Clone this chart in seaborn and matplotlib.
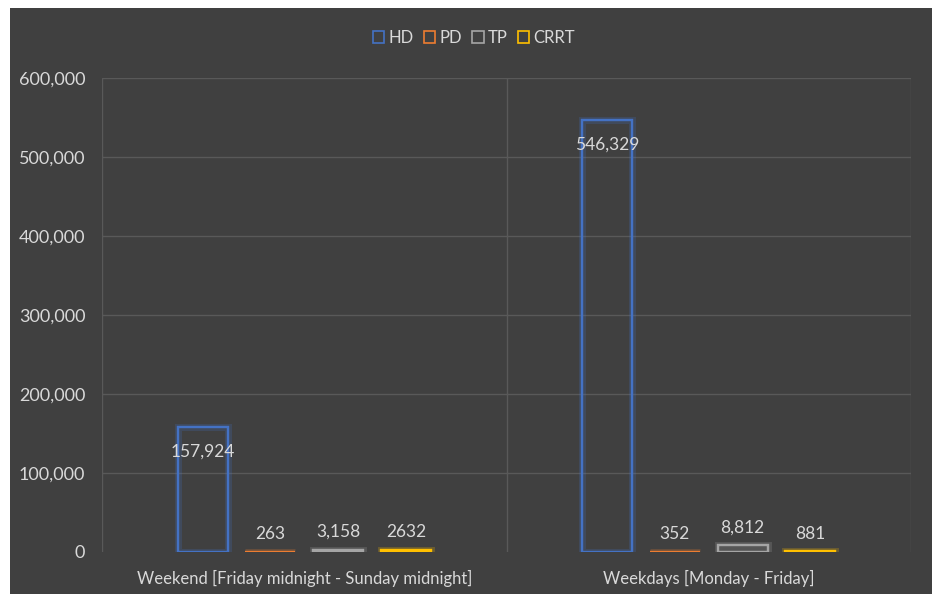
import pandas as pd
import seaborn as sns
import matplotlib.pyplot as plt
from matplotlib.patches import Rectangle, Patch
import matplotlib.patheffects as pe

# Data
periods = ["Weekend [Friday midnight - Sunday midnight]", "Weekdays [Monday - Friday]"]
modalities = ["HD", "PD", "TP", "CRRT"]
weekend_vals = [157924, 263, 3158, 2632]
weekday_vals = [546329, 352, 8812, 881]
weekend_labels = ["157,924", "263", "3,158", "2632"]
weekday_labels = ["546,329", "352", "8,812", "881"]
y_ticks = [0, 100000, 200000, 300000, 400000, 500000, 600000]
colors = ["#4472C4", "#ED7D31", "#A5A5A5", "#FFC000"]

df = pd.DataFrame({
    "period": [periods[0]] * 4 + [periods[1]] * 4,
    "modality": modalities * 2,
    "count": weekend_vals + weekday_vals,
    "label": weekend_labels + weekday_labels,
})

bg = "#404040"
txt = "#D9D9D9"
grid = "#595959"

sns.set_theme(style="dark")
plt.rcParams["font.family"] = ["Lato", "DejaVu Sans"]

fig = plt.figure(figsize=(9.32, 5.94), dpi=100, facecolor="white")
fig.patches.append(Rectangle((10 / 932, 0), 1, 1 - 8 / 594, transform=fig.transFigure,
                             facecolor=bg, edgecolor="none", zorder=-10))
ax = fig.add_axes([102 / 932, 1 - 552 / 594, 809 / 932, 474 / 594])
ax.set_zorder(1)
ax.set_facecolor(bg)

sns.barplot(data=df, x="period", y="count", hue="modality", order=periods,
            hue_order=modalities, palette=colors, fill=False, width=0.67,
            gap=0.26, linewidth=1.6, legend=False, ax=ax, zorder=3)

# soft glow on bar outlines
for p in ax.patches:
    p.set_path_effects([pe.withStroke(linewidth=5, foreground=p.get_edgecolor(), alpha=0.22),
                        pe.Normal()])

# data labels
for container, mod in zip(ax.containers, modalities):
    labs = df[df["modality"] == mod].set_index("period").loc[periods, "label"].tolist()
    if mod == "HD":
        ax.bar_label(container, labels=labs, padding=-23, color=txt, fontsize=12.5)
    else:
        ax.bar_label(container, labels=labs, padding=7, color=txt, fontsize=12.5)

ax.set_ylim(0, 600000)
ax.set_xlim(-0.5, 1.5)
ax.set_yticks(y_ticks)
ax.set_yticklabels([f"{v:,}" for v in y_ticks])
ax.tick_params(axis="y", colors=txt, labelsize=13, length=0, pad=12)
ax.tick_params(axis="x", colors=txt, labelsize=12, length=0, pad=13)
ax.set_xlabel("")
ax.set_ylabel("")
for v in y_ticks[1:]:
    ax.axhline(v, color=grid, linewidth=1, zorder=1)
for x in [-0.5, 0.5, 1.5]:
    ax.axvline(x, color=grid, linewidth=1, zorder=1)
for s in ax.spines.values():
    s.set_visible(False)
ax.grid(False)

handles = [Patch(facecolor="none", edgecolor=c, linewidth=1.2, label=m) for c, m in zip(colors, modalities)]
fig.legend(handles=handles, loc="center", bbox_to_anchor=(474 / 932, 1 - 38 / 594), ncol=4,
           frameon=False, fontsize=12, labelcolor=txt, handlelength=0.7, handleheight=0.7,
           handletextpad=0.25, columnspacing=0.6)

plt.savefig("out.png", dpi=100, facecolor=fig.get_facecolor())
